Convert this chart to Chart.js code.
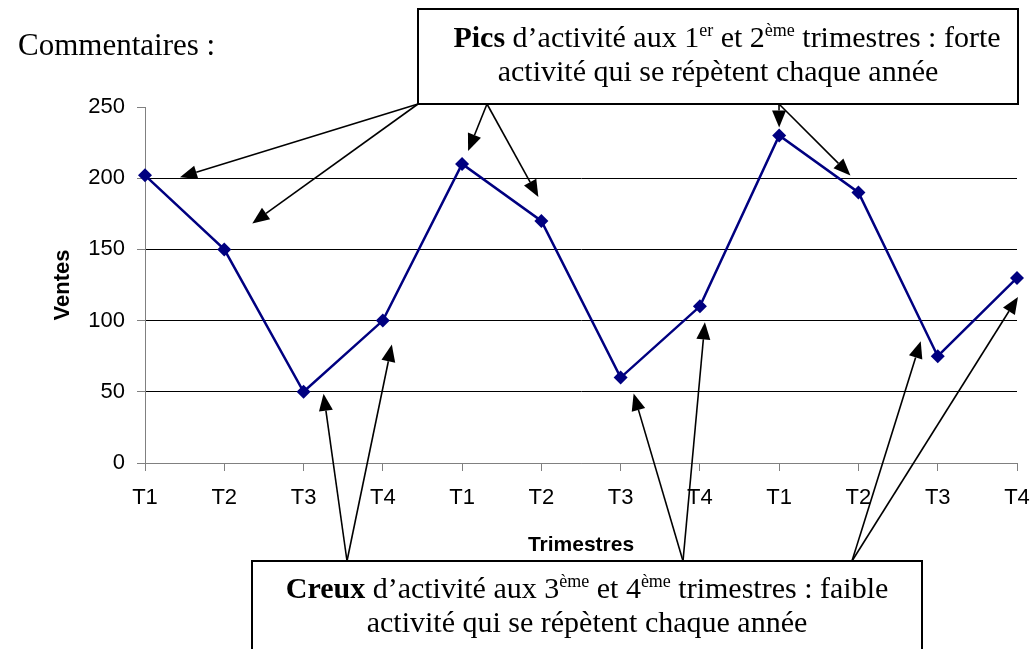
<!DOCTYPE html>
<html>
<head>
<meta charset="utf-8">
<script src="https://cdn.jsdelivr.net/npm/chart.js@4.4.1/dist/chart.umd.min.js"></script>
<style>
  html, body { margin: 0; padding: 0; background: #fff; }
  canvas { display: block; }
</style>
</head>
<body>
<canvas id="chart" width="1035" height="649"></canvas>
<script>
// data
const trimestres = ["T1", "T2", "T3", "T4", "T1", "T2", "T3", "T4", "T1", "T2", "T3", "T4"];
const ventes = [202, 150, 50, 100, 210, 170, 60, 110, 230, 190, 75, 130];
const yMin = 0, yMax = 250, yStep = 50;

const serif = "'Liberation Serif', 'Times New Roman', serif";
const sans = "'Liberation Sans', Arial, sans-serif";

// callout boxes: text lines made of segments
const pics = {
  box: [418, 9, 1018, 104],
  lines: [
    [{ t: "Pics", b: true }, { t: " d\u2019activité aux 1" }, { t: "er", sup: true }, { t: " et 2" }, { t: "ème", sup: true }, { t: " trimestres : forte" }],
    [{ t: "activité qui se répètent chaque année" }]
  ],
  baselines: [47, 81],
  shift: [9, 0]
};
const creux = {
  box: [252, 561, 922, 680],
  lines: [
    [{ t: "Creux", b: true }, { t: " d\u2019activité aux 3" }, { t: "ème", sup: true }, { t: " et 4" }, { t: "ème", sup: true }, { t: " trimestres : faible" }],
    [{ t: "activité qui se répètent chaque année" }]
  ],
  baselines: [598, 632],
  shift: [0, 0]
};

// arrows: start point on a box, end near a data point (index + pixel offset)
const arrows = [
  { from: [418, 104], idx: 0, dx: 35, dy: 2 },
  { from: [418, 104], idx: 1, dx: 28, dy: -26 },
  { from: [487, 104], idx: 4, dx: 6, dy: -13 },
  { from: [487, 104], idx: 5, dx: -3, dy: -24 },
  { from: [779, 104], idx: 8, dx: 0, dy: -8 },
  { from: [779, 104], idx: 9, dx: -8, dy: -17 },
  { from: [347, 561], idx: 2, dx: 20, dy: 2 },
  { from: [347, 561], idx: 3, dx: 9, dy: 24 },
  { from: [683, 561], idx: 6, dx: 13, dy: 16 },
  { from: [683, 561], idx: 7, dx: 5, dy: 16 },
  { from: [852, 561], idx: 10, dx: -17, dy: -15 },
  { from: [852, 561], idx: 11, dx: 1, dy: 19 }
];

function segFont(s) {
  if (s.sup) return "18px " + serif;
  return (s.b ? "bold " : "") + "30px " + serif;
}

function drawLine(ctx, segs, cx, y) {
  let w = 0;
  segs.forEach(s => { ctx.font = segFont(s); w += ctx.measureText(s.t).width; });
  let x = cx - w / 2;
  segs.forEach(s => {
    ctx.font = segFont(s);
    ctx.fillText(s.t, x, s.sup ? y - 11 : y);
    x += ctx.measureText(s.t).width;
  });
}

function drawBox(ctx, c) {
  const [x1, y1, x2, y2] = c.box;
  ctx.fillStyle = "#fff";
  ctx.fillRect(x1, y1, x2 - x1, y2 - y1);
  ctx.strokeStyle = "#000";
  ctx.lineWidth = 2;
  ctx.strokeRect(x1, y1, x2 - x1, y2 - y1);
  ctx.fillStyle = "#000";
  ctx.textBaseline = "alphabetic";
  ctx.textAlign = "left";
  const cx = (x1 + x2) / 2;
  c.lines.forEach((l, i) => drawLine(ctx, l, cx + c.shift[i], c.baselines[i]));
}

function drawArrow(ctx, x1, y1, x2, y2) {
  const a = Math.atan2(y2 - y1, x2 - x1);
  const len = 17, half = 7;
  const bx = x2 - len * Math.cos(a), by = y2 - len * Math.sin(a);
  ctx.strokeStyle = "#000";
  ctx.lineWidth = 1.6;
  ctx.beginPath();
  ctx.moveTo(x1, y1);
  ctx.lineTo(bx, by);
  ctx.stroke();
  ctx.fillStyle = "#000";
  ctx.beginPath();
  ctx.moveTo(x2, y2);
  ctx.lineTo(bx + half * Math.sin(a), by - half * Math.cos(a));
  ctx.lineTo(bx - half * Math.sin(a), by + half * Math.cos(a));
  ctx.closePath();
  ctx.fill();
}

const annotations = {
  id: "annotations",
  afterDraw(chart) {
    const ctx = chart.ctx;
    const xs = chart.scales.x, ys = chart.scales.y;
    ctx.save();
    ctx.fillStyle = "#000";
    ctx.font = "31px " + serif;
    ctx.textAlign = "left";
    ctx.textBaseline = "alphabetic";
    ctx.fillText("Commentaires :", 18, 55);

    arrows.forEach(a => {
      const px = xs.getPixelForValue(a.idx) + a.dx;
      const py = ys.getPixelForValue(ventes[a.idx]) + a.dy;
      drawArrow(ctx, a.from[0], a.from[1], px, py);
    });
    drawBox(ctx, pics);
    drawBox(ctx, creux);
    ctx.restore();
  }
};

new Chart(document.getElementById("chart"), {
  type: "line",
  data: {
    labels: trimestres,
    datasets: [{
      label: "Ventes",
      data: ventes,
      borderColor: "#000080",
      backgroundColor: "#000080",
      borderWidth: 2.5,
      pointStyle: "rectRot",
      pointRadius: 7,
      pointBorderWidth: 0,
      tension: 0,
      clip: false
    }]
  },
  options: {
    responsive: false,
    animation: false,
    layout: { padding: { top: 107, right: 18, left: 0, bottom: 0 } },
    plugins: { legend: { display: false }, tooltip: { enabled: false } },
    scales: {
      x: {
        offset: false,
        grid: { drawOnChartArea: false, drawTicks: true, tickLength: 8, color: "#808080" },
        border: { color: "#808080", width: 1 },
        ticks: { color: "#000", font: { family: sans, size: 22 }, padding: 14, maxRotation: 0, autoSkip: false },
        title: { display: true, text: "Trimestres", color: "#000", font: { family: sans, size: 21, weight: "bold" }, padding: { bottom: 91 } },
        afterFit: s => { s.height = 186; s.paddingLeft = 0; s.paddingRight = 0; }
      },
      y: {
        min: yMin,
        max: yMax,
        ticks: { stepSize: yStep, color: "#000", font: { family: sans, size: 22 }, padding: 12 },
        grid: {
          tickLength: 8,
          tickColor: "#808080",
          color: c => (c.tick && c.tick.value === yMax) ? "rgba(0,0,0,0)" : (c.tick && c.tick.value === yMin ? "#808080" : "#000")
        },
        border: { color: "#808080", width: 1 },
        title: { display: true, text: "Ventes", color: "#000", font: { family: sans, size: 22, weight: "bold" }, padding: { top: 50 } },
        afterFit: s => { s.width = 145; }
      }
    }
  },
  plugins: [annotations]
});
</script>
</body>
</html>
